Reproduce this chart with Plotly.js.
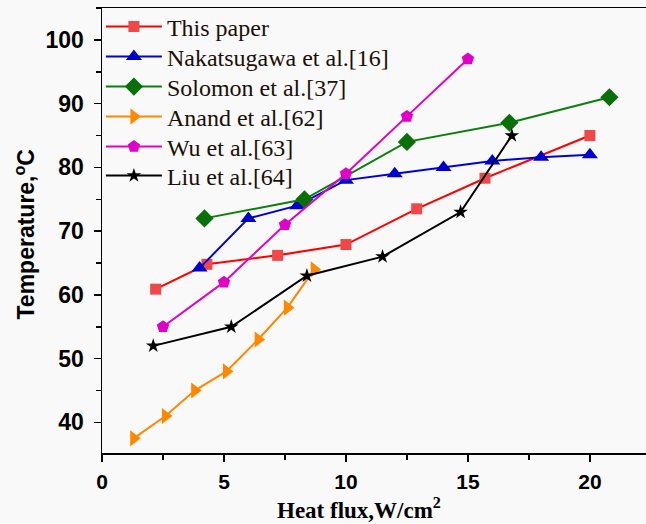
<!DOCTYPE html>
<html>
<head>
<meta charset="utf-8">
<script src="https://cdn.plot.ly/plotly-3.0.1.min.js"></script>
<style>html,body{margin:0;padding:0;background:#f9f9f9;}</style>
</head>
<body>
<div id="chart" style="width:646px;height:524px;"></div>
<script>
const names = ["This paper", "Nakatsugawa et al.[16]", "Solomon et al.[37]", "Anand et al.[62]", "Wu et al.[63]", "Liu et al.[64]"];

const paperX = [2.2, 4.3, 7.2, 10, 12.9, 15.7, 20];
const paperY = [60.9, 64.8, 66.2, 67.9, 73.5, 78.3, 85];

const nakaX = [4, 6, 8, 10, 12, 14, 16, 18, 20];
const nakaY = [64.2, 72, 74, 78, 79, 80, 81, 81.6, 82];

const solX = [4.2, 8.3, 12.5, 16.7, 20.8];
const solY = [72, 75, 84, 87, 91];

const anandX = [1.3, 2.6, 3.8, 5.1, 6.4, 7.6, 8.7];
const anandY = [37.5, 41, 45, 48, 53, 58, 64];

const wuX = [2.5, 5, 7.5, 10, 12.5, 15];
const wuY = [55, 62, 71, 79, 88, 97];

const liuX = [2.1, 5.3, 8.4, 11.5, 14.7, 16.8];
const liuY = [52, 55, 63, 66, 73, 85];

const xTicks = [0, 5, 10, 15, 20];
const yTicks = [40, 50, 60, 70, 80, 90, 100];

const legendIds = ['legend', 'legend2', 'legend3', 'legend4', 'legend5', 'legend6'];

function tr(i, x, y, lineColor, markerColor, symbol, size) {
  return {
    x: x, y: y, name: names[i], type: 'scatter', mode: 'lines+markers',
    legend: legendIds[i],
    line: {color: lineColor, width: 2},
    marker: {symbol: symbol, size: size, color: markerColor, line: {width: 0}}
  };
}

const data = [
  tr(0, paperX, paperY, '#ff0000', '#f04848', 'square', 11),
  tr(1, nakaX, nakaY, '#0000dd', '#0000cc', 'triangle-up', 14),
  tr(2, solX, solY, '#0a800a', '#087008', 'diamond', 14),
  tr(3, anandX, anandY, '#ff8800', '#ff8800', 'triangle-right', 14),
  tr(4, wuX, wuY, '#e000c8', '#e000c8', 'pentagon', 13),
  tr(5, liuX, liuY, '#000000', '#000000', 'star', 11)
];

// plot area in pixels: left 102, right 646, top 8, bottom 453
const rowPx = [27, 57, 87, 117, 147, 176];

const layout = {
  width: 646, height: 524,
  paper_bgcolor: '#f9f9f9', plot_bgcolor: '#f9f9f9',
  margin: {l: 102, r: 0, t: 8, b: 71},
  showlegend: true,
  annotations: [
    {text: 'Heat flux,W/cm<sup>2</sup>', xref: 'paper', yref: 'paper',
     x: (359 - 102) / 544, y: 0, xanchor: 'center', yanchor: 'middle', yshift: -55, showarrow: false,
     font: {family: 'Liberation Serif, Times New Roman, serif', size: 23, color: '#000', weight: 'bold'}},
    {text: 'Temperature,<sup>o</sup>C', xref: 'paper', yref: 'paper', textangle: -90,
     x: 0, y: 0.5, xanchor: 'center', yanchor: 'middle', xshift: -78, yshift: -4, showarrow: false,
     font: {family: 'Liberation Sans, Arial, sans-serif', size: 23, color: '#000', weight: 'bold'}}
  ],
  xaxis: {
    range: [0, 22.3], tickvals: xTicks, ticktext: xTicks.map(String),
    ticks: 'outside', ticklen: 7, tickwidth: 1.5, tickcolor: '#000',
    showline: true, linecolor: '#000', linewidth: 1.5, mirror: true,
    showgrid: false, zeroline: false, ticklabelstandoff: 2,
    tickfont: {family: 'Liberation Sans, Arial, sans-serif', size: 21, color: '#000', weight: 'bold'},
    minor: {dtick: 2.5, tick0: 0, ticks: 'outside', ticklen: 5, tickwidth: 1.5, tickcolor: '#000', showgrid: false}
  },
  yaxis: {
    range: [35.2, 105], tickvals: yTicks, ticktext: yTicks.map(String),
    ticks: 'outside', ticklen: 7, tickwidth: 1.5, tickcolor: '#000',
    showline: true, linecolor: '#000', linewidth: 1.5, mirror: false,
    showgrid: false, zeroline: false, ticklabelstandoff: 5,
    tickfont: {family: 'Liberation Sans, Arial, sans-serif', size: 23, color: '#000', weight: 'bold'},
    minor: {dtick: 5, tick0: 35, ticks: 'outside', ticklen: 5, tickwidth: 1.5, tickcolor: '#000', showgrid: false}
  }
};

legendIds.forEach(function (id, i) {
  layout[id] = {
    x: -0.002, y: (453 - rowPx[i]) / 445, xanchor: 'left', yanchor: 'middle',
    bgcolor: 'rgba(0,0,0,0)', borderwidth: 0,
    font: {family: 'Liberation Serif, Times New Roman, serif', size: 24, color: '#1a1008'},
    itemwidth: 56
  };
});

Plotly.newPlot('chart', data, layout, {displayModeBar: false, staticPlot: true});
</script>
</body>
</html>
